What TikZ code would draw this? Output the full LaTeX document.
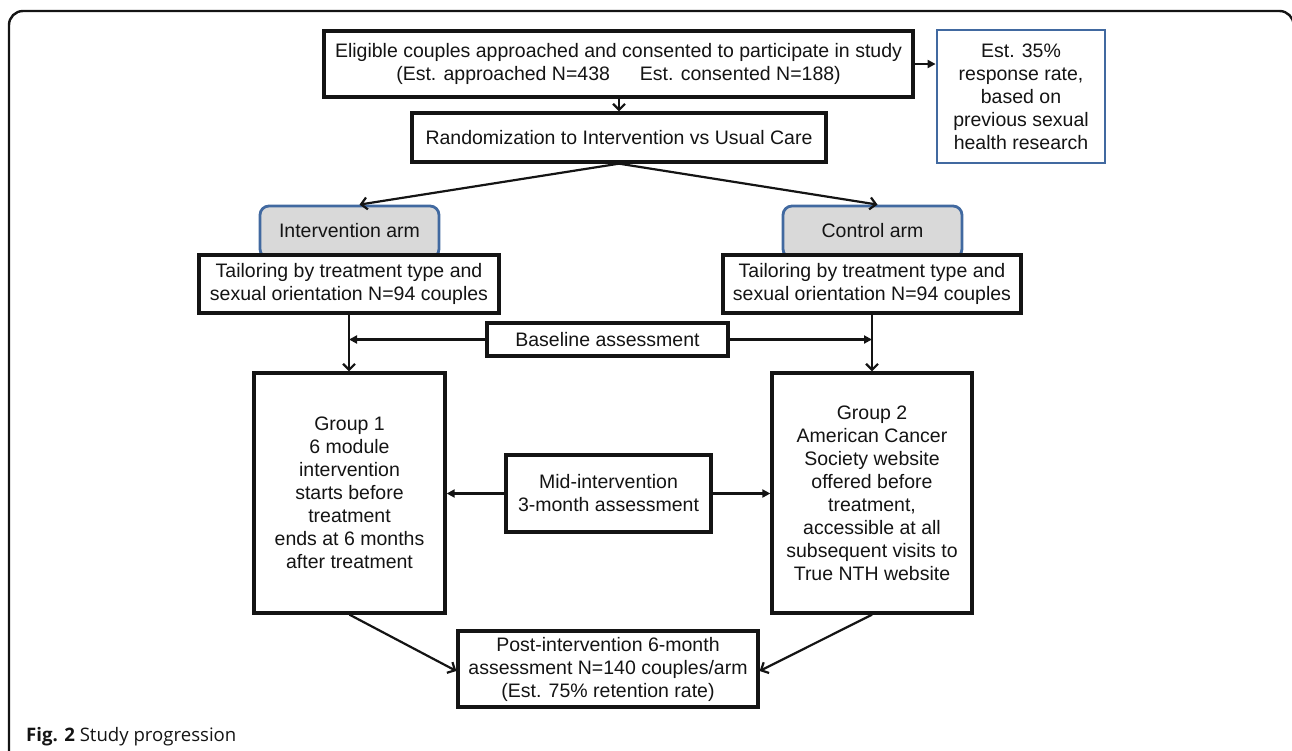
\documentclass[tikz,border=0pt]{standalone}
\usepackage{fontspec}
\setmainfont{Liberation Sans}
\newfontfamily\capfont{Open Sans}
\usetikzlibrary{arrows.meta}
\definecolor{armblue}{RGB}{65,105,160}
\definecolor{armgray}{RGB}{217,217,217}
\definecolor{ink}{RGB}{20,20,20}
\begin{document}
\begin{tikzpicture}[x=1pt,y=-1pt,
  box/.style={draw=ink, line width=3.3pt, fill=white, align=center, inner sep=0pt,
    font=\fontsize{19.5}{23}\selectfont, text=ink},
  bluebox/.style={box, draw=armblue, line width=2.8pt},
  armbox/.style={box, draw=armblue, fill=armgray, line width=2.8pt, rounded corners=9pt},
  barb/.style={-{Straight Barb[length=6pt,width=12pt]}, line width=2.2pt, draw=ink},
  tri/.style={-{Triangle[length=8pt,width=8pt]}, line width=2.2pt, draw=ink},
  frame/.style={draw=ink, line width=2.4pt, rounded corners=14pt}
]
\useasboundingbox (0,0) rectangle (1292,750);
\draw[frame] (9,760) -- (9,11) -- (1293.5,11) -- (1293.5,760);

\node[box, minimum width=589pt, minimum height=66pt] (top) at (618.5,64)
  {Eligible couples approached and consented to participate in study\\(Est. approached N=438\hspace{30pt}Est. consented N=188)};
\node[bluebox, minimum width=168pt, minimum height=133pt] (est) at (1021,96.5)
  {Est. 35\%\\response rate,\\based on\\previous sexual\\health research};
\node[box, minimum width=414pt, minimum height=49pt] (rand) at (619,137.5)
  {Randomization to Intervention vs Usual Care};

\node[armbox, minimum width=179pt, minimum height=52pt] (armL) at (349.5,232)
  {\raisebox{3pt}{Intervention arm}};
\node[armbox, minimum width=179pt, minimum height=52pt] (armR) at (872.5,232)
  {\raisebox{3pt}{Control arm}};

\node[box, minimum width=300pt, minimum height=58pt] (tailL) at (349,284)
  {Tailoring by treatment type and\\sexual orientation N=94 couples};
\node[box, minimum width=298pt, minimum height=58pt] (tailR) at (872,284)
  {Tailoring by treatment type and\\sexual orientation N=94 couples};

\node[box, minimum width=241pt, minimum height=33pt] (base) at (607.5,339.5)
  {Baseline assessment};

\node[box, minimum width=191pt, minimum height=240pt] (g1) at (349.5,493)
  {Group 1\\6 module\\intervention\\starts before\\treatment\\ends at 6 months\\after treatment};
\node[box, minimum width=200pt, minimum height=240pt] (g2) at (872,493)
  {Group 2\\American Cancer\\Society website\\offered before\\treatment,\\accessible at all\\subsequent visits to\\True NTH website};

\node[box, minimum width=205pt, minimum height=77pt] (mid) at (608.5,493.5)
  {Mid-intervention\\3-month assessment};

\node[box, minimum width=300pt, minimum height=76pt] (post) at (608,669)
  {Post-intervention 6-month\\assessment N=140 couples/arm\\(Est. 75\% retention rate)};

\node[anchor=base west, inner sep=0pt, font=\capfont\fontsize{18.6}{22}\selectfont, text=ink] (cap) at (26,741)
  {\textbf{Fig. 2} Study progression};

% connectors
\draw[barb] (top.south -| rand.north) -- (rand.north);
\draw[tri] (top.east) -- (est.west |- top.east);
\draw[barb] (rand.south) -- ([xshift=10pt]armL.north);
\draw[barb] (rand.south) -- ([xshift=5pt]armR.north);
\draw[barb] (tailL.south) -- (tailL.south |- g1.north);
\draw[barb] (tailR.south) -- (tailR.south |- g2.north);
\draw[tri] (base.west) -- (base.west -| tailL.south);
\draw[tri] (base.east) -- (base.east -| tailR.south);
\draw[tri] (mid.west) -- (mid.west -| g1.east);
\draw[tri] (mid.east) -- (mid.east -| g2.west);
\draw[barb] (g1.south) -- ([yshift=-2pt]post.west);
\draw[barb] (g2.south) -- ([yshift=-2pt]post.east);
\end{tikzpicture}
\end{document}
